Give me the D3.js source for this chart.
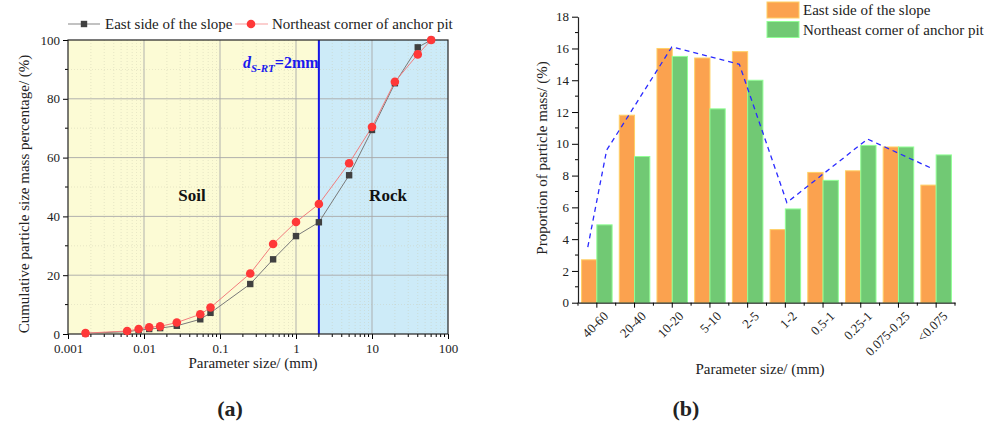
<!DOCTYPE html>
<html>
<head>
<meta charset="utf-8">
<script src="https://cdn.jsdelivr.net/npm/d3@7/dist/d3.min.js"></script>
<style>
  html, body { margin: 0; padding: 0; background: #ffffff; }
  svg { display: block; font-family: "Liberation Serif", "Times New Roman", serif; }
</style>
</head>
<body>
<svg id="fig" width="994" height="428"></svg>
<script>
// ---- (a) cumulative grading curves ----
const particleSizes = [0.0017, 0.006, 0.0085, 0.0117, 0.0163, 0.027, 0.055, 0.075, 0.25, 0.5, 1, 2, 5, 10, 20, 40, 60];
const eastCumulative = [0.2, 0.8, 1.3, 1.7, 2.0, 2.8, 5.0, 7.2, 17.0, 25.4, 33.3, 38.0, 54.0, 69.4, 85.3, 97.5, 100];
const northeastCumulative = [0.3, 1.0, 1.7, 2.3, 2.6, 3.9, 6.7, 9.0, 20.6, 30.6, 38.1, 44.2, 58.1, 70.4, 85.8, 95.1, 100];
const soilRockThreshold = 2;
const cumulativeTicks = [0, 20, 40, 60, 80, 100];
const sizeTicks = [0.001, 0.01, 0.1, 1, 10, 100];
const sizeTickLabels = ["0.001", "0.01", "0.1", "1", "10", "100"];

// ---- (b) mass proportion per size group ----
const sizeGroups = ["40-60", "20-40", "10-20", "5-10", "2-5", "1-2", "0.5-1", "0.25-1", "0.075-0.25", "<0.075"];
const eastProportion = [2.7, 11.8, 16.0, 15.4, 15.8, 4.6, 8.2, 8.3, 9.8, 7.4];
const northeastProportion = [4.9, 9.2, 15.5, 12.2, 14.0, 5.9, 7.7, 9.9, 9.8, 9.3];
const trendPosition = [-0.24, 0.26, 1.99, 3.78, 5.04, 7.18, 8.84];
const trendValue = [3.5, 9.6, 16.1, 15.0, 6.3, 10.3, 8.5];
const proportionTicks = [0, 2, 4, 6, 8, 10, 12, 14, 16, 18];

const seriesNames = ["East side of the slope", "Northeast corner of anchor pit"];

const svg = d3.select("#fig");

// ======================= (a) =======================
const A = { left: 68, right: 448, top: 40, bottom: 334 };
const xA = d3.scaleLog().domain([0.001, 100]).range([A.left, A.right]);
const yA = d3.scaleLinear().domain([0, 100]).range([A.bottom, A.top]);
const gA = svg.append("g");

// soil / rock background zones
gA.append("rect").attr("x", A.left).attr("y", A.top)
  .attr("width", xA(soilRockThreshold) - A.left).attr("height", A.bottom - A.top)
  .attr("fill", "#fcfbd5");
gA.append("rect").attr("x", xA(soilRockThreshold)).attr("y", A.top)
  .attr("width", A.right - xA(soilRockThreshold)).attr("height", A.bottom - A.top)
  .attr("fill", "#cdebf8");

// minor grid
const minorX = [];
for (let e = -3; e < 2; e++) for (let m = 2; m <= 9; m++) minorX.push(m * Math.pow(10, e));
const minorY = [10, 30, 50, 70, 90];
gA.append("g").selectAll("line").data(minorX).join("line")
  .attr("x1", d => xA(d)).attr("x2", d => xA(d)).attr("y1", A.top).attr("y2", A.bottom)
  .attr("stroke", "#c9c9b0").attr("stroke-width", 0.6).attr("stroke-dasharray", "1,2").attr("opacity", 0.7);
gA.append("g").selectAll("line").data(minorY).join("line")
  .attr("x1", A.left).attr("x2", A.right).attr("y1", d => yA(d)).attr("y2", d => yA(d))
  .attr("stroke", "#c9c9b0").attr("stroke-width", 0.6).attr("stroke-dasharray", "1,2").attr("opacity", 0.7);

// major grid
gA.append("g").selectAll("line").data(sizeTicks.slice(1, -1)).join("line")
  .attr("x1", d => xA(d)).attr("x2", d => xA(d)).attr("y1", A.top).attr("y2", A.bottom)
  .attr("stroke", "#a8a8a8").attr("stroke-width", 0.9);
gA.append("g").selectAll("line").data(cumulativeTicks.slice(1, -1)).join("line")
  .attr("x1", A.left).attr("x2", A.right).attr("y1", d => yA(d)).attr("y2", d => yA(d))
  .attr("stroke", "#a8a8a8").attr("stroke-width", 0.9);

// soil-rock threshold line
gA.append("line")
  .attr("x1", xA(soilRockThreshold)).attr("x2", xA(soilRockThreshold))
  .attr("y1", A.top).attr("y2", A.bottom)
  .attr("stroke", "#1515e6").attr("stroke-width", 2);

// axes
const axA_x = d3.axisBottom(xA).tickValues(sizeTicks).tickFormat((d, i) => sizeTickLabels[i]).tickSize(5).tickSizeOuter(0).tickPadding(5);
const axA_y = d3.axisLeft(yA).tickValues(cumulativeTicks).tickSize(5).tickSizeOuter(0).tickPadding(3);
const gxA = gA.append("g").attr("transform", `translate(0,${A.bottom})`).call(axA_x);
const gyA = gA.append("g").attr("transform", `translate(${A.left},0)`).call(axA_y);
gA.append("g").attr("transform", `translate(0,${A.bottom})`).selectAll("line").data(minorX).join("line")
  .attr("x1", d => xA(d)).attr("x2", d => xA(d)).attr("y1", 0).attr("y2", 3).attr("stroke", "#000");
gA.append("g").attr("transform", `translate(${A.left},0)`).selectAll("line").data(minorY).join("line")
  .attr("x1", -3).attr("x2", 0).attr("y1", d => yA(d)).attr("y2", d => yA(d)).attr("stroke", "#000");
[gxA, gyA].forEach(g => {
  g.selectAll("text").attr("font-family", "Liberation Serif").attr("font-size", 13).attr("fill", "#222");
  g.select(".domain").remove();
});
// frame
gA.append("rect").attr("x", A.left).attr("y", A.top)
  .attr("width", A.right - A.left).attr("height", A.bottom - A.top)
  .attr("fill", "none").attr("stroke", "#222").attr("stroke-width", 1.2);

// curves
const lineA = (vals) => d3.line().x((d, i) => xA(particleSizes[i])).y(d => yA(d))(vals);
gA.append("path").attr("d", lineA(eastCumulative)).attr("fill", "none").attr("stroke", "#7a7a7a").attr("stroke-width", 1);
gA.append("path").attr("d", lineA(northeastCumulative)).attr("fill", "none").attr("stroke", "#f27d7d").attr("stroke-width", 1);
gA.append("g").selectAll("rect").data(eastCumulative).join("rect")
  .attr("x", (d, i) => xA(particleSizes[i]) - 3.2).attr("y", d => yA(d) - 3.2)
  .attr("width", 6.4).attr("height", 6.4).attr("fill", "#404040");
gA.append("g").selectAll("circle").data(northeastCumulative).join("circle")
  .attr("cx", (d, i) => xA(particleSizes[i])).attr("cy", d => yA(d)).attr("r", 4.3)
  .attr("fill", "#ff3838");

// zone labels
gA.append("text").attr("x", 192).attr("y", 201).attr("text-anchor", "middle")
  .attr("font-weight", "bold").attr("font-size", 17).attr("fill", "#111").text("Soil");
gA.append("text").attr("x", 388).attr("y", 201).attr("text-anchor", "middle")
  .attr("font-weight", "bold").attr("font-size", 17).attr("fill", "#111").text("Rock");
const dLabel = gA.append("text").attr("x", 243).attr("y", 68).attr("fill", "#1a1aee")
  .attr("font-weight", "bold").attr("font-size", 16);
dLabel.append("tspan").attr("font-style", "italic").text("d");
dLabel.append("tspan").attr("font-style", "italic").attr("font-size", 11).attr("dy", 4).text("S-RT");
dLabel.append("tspan").attr("dy", -4).text("=2mm");

// axis titles
gA.append("text").attr("x", 253).attr("y", 368).attr("text-anchor", "middle")
  .attr("font-size", 15).attr("fill", "#222").text("Parameter size/ (mm)");
gA.append("text").attr("transform", "translate(29,194) rotate(-90)").attr("text-anchor", "middle")
  .attr("font-size", 15).attr("fill", "#222").text("Cumulative particle size mass percentage/ (%)");

// legend (a)
const legA = gA.append("g");
legA.append("line").attr("x1", 68).attr("x2", 100).attr("y1", 24).attr("y2", 24).attr("stroke", "#9a9a9a").attr("stroke-width", 1.2);
legA.append("rect").attr("x", 84 - 3.2).attr("y", 24 - 3.2).attr("width", 6.4).attr("height", 6.4).attr("fill", "#404040");
legA.append("text").attr("x", 105).attr("y", 29).attr("font-size", 15).attr("fill", "#222").text(seriesNames[0]);
legA.append("line").attr("x1", 235).attr("x2", 268).attr("y1", 24).attr("y2", 24).attr("stroke", "#f7a0a0").attr("stroke-width", 1.2);
legA.append("circle").attr("cx", 251).attr("cy", 24).attr("r", 4.3).attr("fill", "#ff3838");
legA.append("text").attr("x", 272).attr("y", 29).attr("font-size", 15).attr("fill", "#222").text(seriesNames[1]);

// panel label
svg.append("text").attr("x", 230).attr("y", 416).attr("text-anchor", "middle")
  .attr("font-size", 22).attr("font-weight", "bold").attr("fill", "#222").text("(a)");

// ======================= (b) =======================
const B = { left: 578, right: 955, top: 16.7, bottom: 302.7 };
const xB = d3.scaleBand().domain(sizeGroups).range([B.left, B.right]).paddingInner(0.19).paddingOuter(0.095);
const xSeries = d3.scaleBand().domain([0, 1]).range([0, xB.bandwidth()]);
const yB = d3.scaleLinear().domain([0, 18]).range([B.bottom, B.top]);
const xTrend = d3.scaleLinear().domain([-0.5, sizeGroups.length - 0.5]).range([B.left, B.right]);
const gB = svg.append("g");
const barColors = ["#fba24f", "#71c974"];

const barData = [];
sizeGroups.forEach((g, i) => {
  barData.push({ group: g, s: 0, v: eastProportion[i] });
  barData.push({ group: g, s: 1, v: northeastProportion[i] });
});
gB.append("g").selectAll("rect").data(barData).join("rect")
  .attr("x", d => xB(d.group) + xSeries(d.s)).attr("width", xSeries.bandwidth())
  .attr("y", d => yB(d.v)).attr("height", d => yB(0) - yB(d.v))
  .attr("fill", d => barColors[d.s])
  .attr("stroke", d => d3.color(barColors[d.s]).brighter(0.7)).attr("stroke-width", 1);

// trend envelope
gB.append("path")
  .attr("d", d3.line().x((d, i) => xTrend(trendPosition[i])).y(d => yB(d))(trendValue))
  .attr("fill", "none").attr("stroke", "#2a2aff").attr("stroke-width", 1.3).attr("stroke-dasharray", "5,4");

// axes (b)
const gyB = gB.append("g").attr("transform", `translate(${B.left},0)`)
  .call(d3.axisLeft(yB).tickValues(proportionTicks).tickSize(6).tickSizeOuter(0).tickPadding(3));
gB.append("g").attr("transform", `translate(${B.left},0)`).selectAll("line")
  .data(d3.range(1, 18, 2)).join("line")
  .attr("x1", -3).attr("x2", 0).attr("y1", d => yB(d)).attr("y2", d => yB(d)).attr("stroke", "#000");
const gxB = gB.append("g").attr("transform", `translate(0,${B.bottom})`)
  .call(d3.axisBottom(xB).tickSize(5).tickSizeOuter(0).tickPadding(4));
gB.append("g").attr("transform", `translate(0,${B.bottom})`).selectAll("line")
  .data(d3.range(0, sizeGroups.length + 1)).join("line")
  .attr("x1", d => xTrend(d - 0.5)).attr("x2", d => xTrend(d - 0.5)).attr("y1", 0).attr("y2", 3).attr("stroke", "#000");
gyB.selectAll("text").attr("font-family", "Liberation Serif").attr("font-size", 13).attr("fill", "#222");
gxB.selectAll("text").attr("font-family", "Liberation Serif").attr("font-size", 13).attr("fill", "#222")
  .attr("text-anchor", "end").attr("dy", "0.35em")
  .attr("transform", "translate(9,11) rotate(-45)").attr("y", 0).attr("x", 0);
[gxB, gyB].forEach(g => g.select(".domain").attr("stroke", "#222").attr("stroke-width", 1.2));

gB.append("text").attr("x", 760).attr("y", 374).attr("text-anchor", "middle")
  .attr("font-size", 15).attr("fill", "#222").text("Parameter size/ (mm)");
gB.append("text").attr("transform", "translate(547,158) rotate(-90)").attr("text-anchor", "middle")
  .attr("font-size", 15).attr("fill", "#222").text("Proportion of particle mass/ (%)");

// legend (b)
const legB = gB.append("g");
seriesNames.forEach((name, i) => {
  legB.append("rect").attr("x", 767).attr("y", 2 + i * 19.5).attr("width", 32).attr("height", 16)
    .attr("fill", barColors[i]).attr("stroke", d3.color(barColors[i]).brighter(0.7)).attr("stroke-width", 1);
  legB.append("text").attr("x", 803).attr("y", 15 + i * 19.5).attr("font-size", 15).attr("fill", "#222").text(name);
});

svg.append("text").attr("x", 686).attr("y", 416).attr("text-anchor", "middle")
  .attr("font-size", 22).attr("font-weight", "bold").attr("fill", "#222").text("(b)");
</script>
</body>
</html>
